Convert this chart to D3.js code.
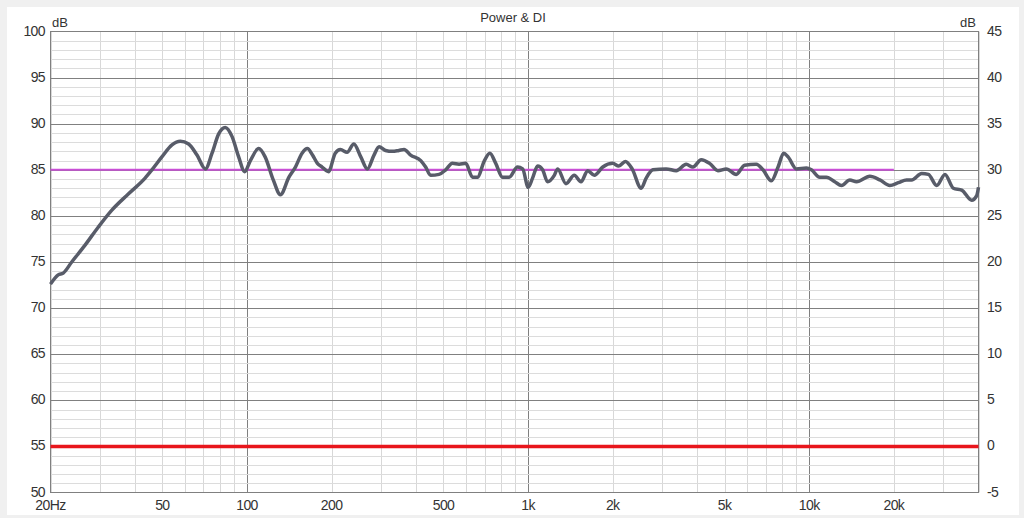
<!DOCTYPE html>
<meta charset="utf-8">
<style>
  body { margin: 0; background: #f0f0f0; font-family: "Liberation Sans", Arial, sans-serif; }
  svg text { fill: #333; }
</style>
<body>
<script src="https://d3js.org/d3.v7.min.js"></script>
<script>
  // frequency (Hz) of each point
  var freqs = [20, 21.3, 22.2, 23.8, 26.5, 29.6, 33.0, 37.9, 43.4, 45.9, 49.8, 54.1, 57.9, 62.0, 66.4, 71.1,
    75.1, 79.3, 83.7, 88.5, 93.4, 98.1, 102.8, 110, 116, 124, 131.5, 141, 148.7, 157, 164, 171, 178, 185,
    195, 206, 215, 227, 240, 254, 268, 283, 295, 311, 329, 347, 362, 382, 415, 432, 450, 482, 509, 538,
    568, 600, 634, 661, 697, 731, 767, 811, 856, 917, 956, 1001, 1037, 1081, 1126, 1173, 1239, 1274,
    1363, 1459, 1542, 1629, 1720, 1843, 2000, 2100, 2218, 2344, 2524, 2630, 2778, 3098, 3364, 3650,
    3856, 4128, 4420, 4734, 5068, 5500, 5888, 6480, 6846, 7332, 7746, 8110, 8410, 9002, 9772, 10178,
    10898, 11512, 12324, 13022, 13938, 14728, 16426, 17830, 19352, 20736, 22198, 23126, 25114, 26534,
    28398, 30394, 32560, 34860, 37840, 39420, 40000];
  // power response in dB
  var power = [72.6, 73.6, 73.8, 75.0, 76.8, 78.8, 80.6, 82.4, 84.1, 85.0, 86.4, 87.7, 88.1, 87.8, 86.6, 85.1,
    86.8, 88.9, 89.6, 88.6, 86.4, 84.8, 86.0, 87.3, 86.4, 83.9, 82.3, 84.2, 85.3, 86.8, 87.3, 86.6, 85.7, 85.3,
    84.8, 86.8, 87.2, 86.9, 87.8, 86.4, 85.1, 86.6, 87.5, 87.1, 87.0, 87.1, 87.2, 86.6, 86.0, 85.3, 84.4, 84.5, 85.0, 85.7,
    85.6, 85.7, 84.2, 84.2, 85.9, 86.8, 85.7, 84.2, 84.2, 85.3, 85.1, 83.1, 84.1, 85.4, 85.0, 83.7, 84.4, 85.1,
    83.5, 84.4, 83.7, 84.9, 84.4, 85.3, 85.7, 85.4, 85.9, 85.1, 83.0, 84.1, 85.0, 85.1, 84.9, 85.6,
    85.3, 86.1, 85.7, 84.9, 85.1, 84.5, 85.5, 85.6, 85.0, 83.8, 85.3, 86.8, 86.4, 85.1, 85.2, 85.0,
    84.2, 84.2, 83.7, 83.3, 83.9, 83.7, 84.3, 83.9, 83.3, 83.6, 83.9, 83.9, 84.6, 84.5,
    83.3, 84.5, 83.0, 82.8, 81.7, 82.2, 83.1];
  // DI reference lines (right axis, dB) and target level (left axis)
  var diLevel = 0;
  var targetLevel = 85, targetEnd = 20000;

  var leftTicks = [50, 55, 60, 65, 70, 75, 80, 85, 90, 95, 100];
  var rightTicks = [-5, 0, 5, 10, 15, 20, 25, 30, 35, 40, 45];
  var xTicks = [20, 50, 100, 200, 500, 1000, 2000, 5000, 10000, 20000];
  var xLabels = ["20Hz", "50", "100", "200", "500", "1k", "2k", "5k", "10k", "20k"];

  var W = 1024, H = 518;
  var L = 50.5, R = 978.5, T = 31.5, B = 492.5;

  var svg = d3.select("body").append("svg")
    .attr("width", W).attr("height", H);

  svg.append("rect") // white panel
    .attr("x", 7).attr("y", 7).attr("width", 1012).attr("height", 508)
    .attr("fill", "#fff");

  var x = d3.scaleLog().domain([20, 40000]).range([L, R]);
  var y = d3.scaleLinear().domain([50, 100]).range([B, T]);
  var y2 = d3.scaleLinear().domain([-5, 45]).range([B, T]);

  // vertical grid
  var minorX = [];
  [10, 100, 1000, 10000].forEach(function(dec) {
    for (var k = 1; k < 10; k++) {
      var f = dec * k;
      if (f >= 20 && f <= 40000) minorX.push(f);
    }
  });
  svg.selectAll(".vgrid").data(minorX).enter().append("line")
    .attr("x1", function(d) { return Math.round(x(d)) + 0.5; })
    .attr("x2", function(d) { return Math.round(x(d)) + 0.5; })
    .attr("y1", T).attr("y2", B)
    .attr("stroke", function(d) { return [100, 1000, 10000].indexOf(d) >= 0 ? "#808080" : "#d8d8d8"; })
    .attr("stroke-width", 1);

  // horizontal grid
  var minorY = d3.range(51, 100, 1);
  svg.selectAll(".hgrid").data(minorY).enter().append("line")
    .attr("x1", L).attr("x2", R)
    .attr("y1", function(d) { return Math.round(y(d)) + 0.5; })
    .attr("y2", function(d) { return Math.round(y(d)) + 0.5; })
    .attr("stroke", function(d) { return d % 5 == 0 ? "#808080" : "#dcdcdc"; })
    .attr("stroke-width", 1);

  // frame
  svg.append("rect")
    .attr("x", L).attr("y", T).attr("width", R - L).attr("height", B - T)
    .attr("fill", "none").attr("stroke", "#808080");

  // DI line (red)
  svg.append("line")
    .attr("x1", L).attr("x2", R)
    .attr("y1", y2(diLevel)).attr("y2", y2(diLevel))
    .attr("stroke", "#e8161c").attr("stroke-width", 3.5);

  // target line (magenta)
  svg.append("line")
    .attr("x1", L).attr("x2", x(targetEnd))
    .attr("y1", y(targetLevel)).attr("y2", y(targetLevel))
    .attr("stroke", "#c94fd6").attr("stroke-width", 2);

  // power curve
  var pts = freqs.map(function(f, i) { return [f, power[i]]; });
  var line = d3.line()
    .x(function(d) { return x(d[0]); })
    .y(function(d) { return y(d[1]); })
    .curve(d3.curveMonotoneX);
  svg.append("path")
    .datum(pts)
    .attr("d", line)
    .attr("fill", "none")
    .attr("stroke", "#585c69")
    .attr("stroke-width", 3.5)
    .attr("stroke-linejoin", "round");

  // axes labels
  svg.selectAll(".ly").data(leftTicks).enter().append("text")
    .attr("x", 45).attr("y", function(d) { return y(d) + 4; })
    .attr("text-anchor", "end").attr("font-size", 14)
    .attr("letter-spacing", -0.6)
    .text(function(d) { return d; });

  svg.selectAll(".ry").data(rightTicks).enter().append("text")
    .attr("x", 987).attr("y", function(d) { return y2(d) + 4; })
    .attr("text-anchor", "start").attr("font-size", 14)
    .attr("letter-spacing", -0.6)
    .text(function(d) { return d; });

  svg.selectAll(".xl").data(xTicks).enter().append("text")
    .attr("x", function(d) { return x(d); }).attr("y", 510)
    .attr("text-anchor", "middle").attr("font-size", 14)
    .attr("letter-spacing", -0.6)
    .text(function(d, i) { return xLabels[i]; });

  svg.append("text").attr("x", 52).attr("y", 27).attr("font-size", 13).text("dB");
  svg.append("text").attr("x", 976).attr("y", 27).attr("font-size", 13)
    .attr("text-anchor", "end").text("dB");
  svg.append("text").attr("x", 513).attr("y", 22).attr("font-size", 13)
    .attr("text-anchor", "middle").text("Power & DI");
</script>
</body>
